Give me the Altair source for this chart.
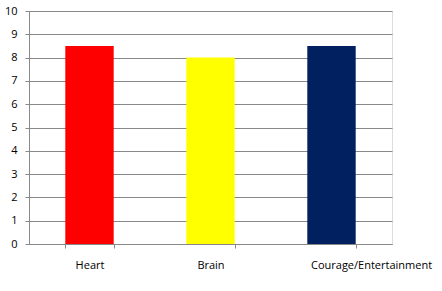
import altair as alt
import pandas as pd

categories = ["Heart", "Brain", "Courage/Entertainment"]
values = [8.5, 8.0, 8.5]
colors = ["#FF0000", "#FFFF00", "#002060"]

df = pd.DataFrame({"category": categories, "value": values})

font = "Open Sans"

bars = alt.Chart(df).mark_bar().encode(
    x=alt.X(
        "category:N",
        sort=categories,
        scale=alt.Scale(paddingInner=0.6, paddingOuter=0.3),
        axis=alt.Axis(
            title=None,
            labelAngle=0,
            grid=False,
            domainColor="#888888",
            tickColor="#888888",
            tickSize=4,
            tickBand="extent",
            labelPadding=11,
            labelFont=font,
            labelFontSize=11,
            labelColor="#000000",
            labelAlign=alt.ExprRef(
                "datum.value == 'Courage/Entertainment' ? 'left' : 'center'"
            ),
            labelOffset=alt.ExprRef(
                "datum.value == 'Courage/Entertainment' ? -21 : 0"
            ),
        ),
    ),
    y=alt.Y(
        "value:Q",
        scale=alt.Scale(domain=[0, 10], nice=False),
        axis=alt.Axis(
            title=None,
            values=list(range(0, 11)),
            grid=True,
            gridColor="#888888",
            gridOpacity=1,
            domainColor="#888888",
            tickColor="#888888",
            tickSize=4,
            labelPadding=8,
            labelFont=font,
            labelFontSize=11,
            labelColor="#000000",
        ),
    ),
    color=alt.Color(
        "category:N",
        scale=alt.Scale(domain=categories, range=colors),
        legend=None,
    ),
).properties(
    width=363,
    height=233,
    autosize=alt.AutoSizeParams(type="none"),
    padding={"left": 29, "top": 11, "right": 50, "bottom": 47},
).configure_view(stroke=None).configure(background="white")

bars.save("out.html", embed_options={"renderer": "svg", "actions": False})
